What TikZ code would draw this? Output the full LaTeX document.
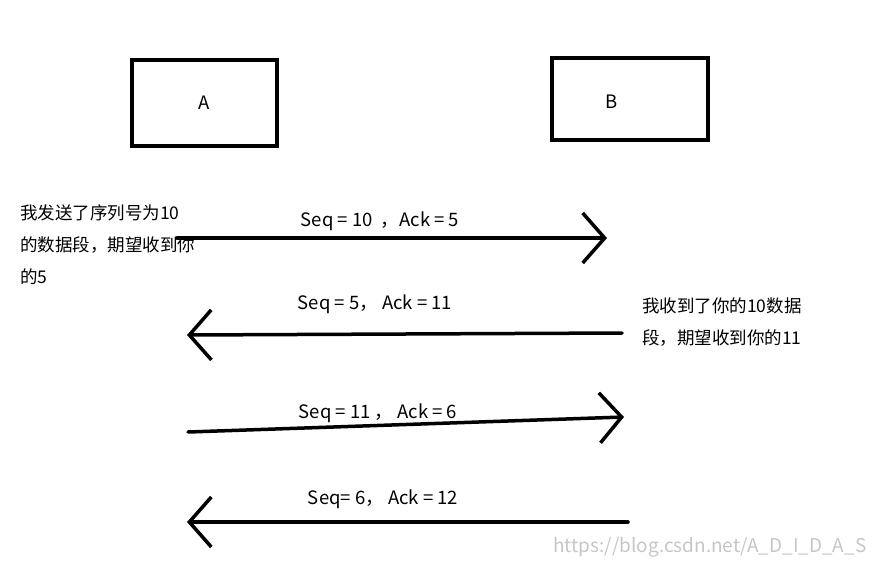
\documentclass[tikz,border=0pt]{standalone}
\usepackage{fontspec}
\setmainfont{Noto Sans CJK SC}
\usetikzlibrary{arrows.meta}
\tikzset{
  hostbox/.style={draw, line width=3.5pt},
  msg/.style={line width=3.5pt, line cap=round, -{Straight Barb[length=22pt,width=50pt,line width=3.5pt]}},
  lbl/.style={font=\fontsize{18.5}{20}\selectfont},
  note/.style={font=\fontsize{17.5}{32}\selectfont, align=left, anchor=north west, inner sep=0pt}
}
\begin{document}
\begin{tikzpicture}[x=1pt,y=-1pt]
   \useasboundingbox (0,0) rectangle (876,571);
   \draw[hostbox] (132,60) rectangle (277,146);
   \node[lbl] (A) at (204,103) {A};
   \draw[hostbox] (552,58) rectangle (708,140);
   \node[lbl] (B) at (612,102) {B};
   % messages
   \coordinate (s1) at (177,238); \coordinate (e1) at (607,238);
   \coordinate (s2) at (622,333); \coordinate (e2) at (187,335);
   \coordinate (s3) at (188,432); \coordinate (e3) at (624,417);
   \coordinate (s4) at (628,522); \coordinate (e4) at (187,522);
   \draw[msg] (s1) -- (e1);
   \draw[msg] (s2) -- (e2);
   \draw[msg] (s3) -- (e3);
   \draw[msg] (s4) -- (e4);
   \node[lbl] (m1) at (380,221) {Seq = 10 \ ，Ack = 5};
   \node[lbl] (m2) at (375,304) {Seq = 5， Ack = 11};
   \node[lbl] (m3) at (378,413) {Seq = 11 ， Ack = 6};
   \node[lbl] (m4) at (383,499) {Seq= 6， Ack = 12};
   % notes
   \node[note] (nA) at (20,205) {我发送了序列号为10\\的数据段，期望收到你\\的5};
   \node[note] (nB) at (642,298) {我收到了你的10数据\\段，期望收到你的11};
   \node[font=\fontsize{19}{20}\selectfont, text=gray!45, anchor=east] (wm) at (870,547) {https://blog.csdn.net/A\_D\_I\_D\_A\_S};
\end{tikzpicture}
\end{document}
